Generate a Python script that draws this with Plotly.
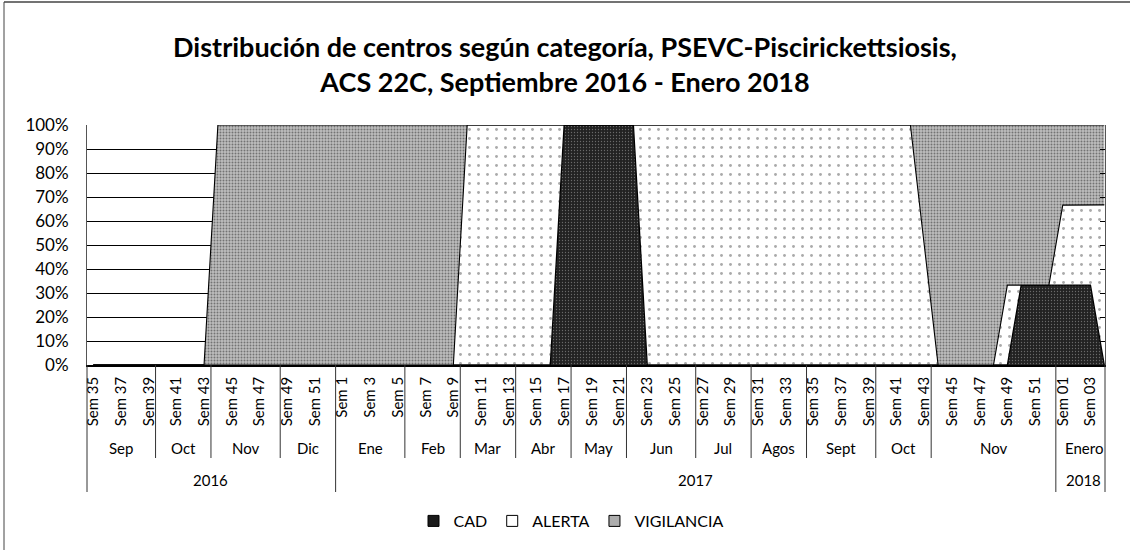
import plotly.graph_objects as go

# ---------------- data ----------------
weeks_2016 = ["Sem %d" % w for w in range(35, 53)]
weeks_2017 = ["Sem %d" % w for w in range(1, 53)]
weeks_2018 = ["Sem 01", "Sem 02", "Sem 03", "Sem 04"]
week_labels = weeks_2016 + weeks_2017 + weeks_2018

month_labels = ["Sep", "Oct", "Nov", "Dic", "Ene", "Feb", "Mar", "Abr", "May", "Jun",
                "Jul", "Agos", "Sept", "Oct", "Nov", "Enero"]
month_weeks = [5, 4, 5, 4, 5, 4, 4, 4, 4, 5, 4, 4, 5, 4, 9, 4]
year_labels = ["2016", "2017", "2018"]
year_weeks = [18, 52, 4]

# percentages per week (grouped by month)
cad = [0, 0, 0, 0, 0,  0, 0, 0, 0,  0, 0, 0, 0, 0,  0, 0, 0, 0,
       0, 0, 0, 0, 0,  0, 0, 0, 0,  0, 0, 0, 0,  0, 0, 0, 100,
       100, 100, 100, 100,  100, 0, 0, 0, 0,  0, 0, 0, 0,  0, 0, 0, 0,
       0, 0, 0, 0, 0,  0, 0, 0, 0,  0, 0, 0, 0, 0, 0, 33.3, 33.3, 33.3,
       33.3, 33.3, 33.3, 0]
alerta = [0, 0, 0, 0, 0,  0, 0, 0, 0,  0, 0, 0, 0, 0,  0, 0, 0, 0,
          0, 0, 0, 0, 0,  0, 0, 0, 0,  100, 100, 100, 100,  100, 100, 100, 0,
          0, 0, 0, 0,  0, 100, 100, 100, 100,  100, 100, 100, 100,  100, 100, 100, 100,
          100, 100, 100, 100, 100,  100, 100, 100, 50,  0, 0, 0, 0, 0, 33.3, 0, 0, 0,
          33.3, 33.3, 33.3, 66.7]
vigilancia = [0, 0, 0, 0, 0,  0, 0, 0, 0,  100, 100, 100, 100, 100,  100, 100, 100, 100,
              100, 100, 100, 100, 100,  100, 100, 100, 100,  0, 0, 0, 0,  0, 0, 0, 0,
              0, 0, 0, 0,  0, 0, 0, 0, 0,  0, 0, 0, 0,  0, 0, 0, 0,
              0, 0, 0, 0, 0,  0, 0, 0, 50,  100, 100, 100, 100, 100, 66.7, 66.7, 66.7, 66.7,
              33.4, 33.4, 33.4, 33.3]

series_names = ["CAD", "ALERTA", "VIGILANCIA"]

x_idx = list(range(len(week_labels)))

# ---------------- layout constants ----------------
W, H = 1130, 550
ML, MR, MT, MB = 87, 25, 125, 185
PW, PH = W - ML - MR, H - MT - MB
FONT = "Lato"


def py(px_from_top):
    """figure pixel y -> paper y"""
    return (H - MB - px_from_top) / PH


def px(px_from_left):
    return (px_from_left - ML) / PW


styles = {
    "CAD": dict(line=dict(color="black", width=1.3), fillcolor="#1e1e1e",
                fillpattern=dict(shape=".", bgcolor="#222222", fgcolor="#b0b0b0", size=3, solidity=0.15),
                legend_color="#1a1a1a"),
    "ALERTA": dict(line=dict(color="black", width=1.1), fillcolor="white",
                   fillpattern=dict(shape=".", bgcolor="white", fgcolor="#555555", size=9, solidity=0.08),
                   legend_color="white"),
    "VIGILANCIA": dict(line=dict(color="black", width=1.1), fillcolor="#bababa",
                       fillpattern=dict(shape=".", bgcolor="#bdbdbd", fgcolor="#2a2a2a", size=3, solidity=0.33),
                       legend_color="#adadad"),
}

fig = go.Figure()
for name, values in zip(series_names, [cad, alerta, vigilancia]):
    st = styles[name]
    fig.add_trace(go.Scatter(
        x=x_idx, y=values, name=name, mode="lines", stackgroup="one",
        line=st["line"], fillcolor=st["fillcolor"], fillpattern=st["fillpattern"],
        showlegend=False,
    ))
# legend swatches (square markers, as in the original legend)
for name in series_names:
    fig.add_trace(go.Scatter(
        x=[None], y=[None], name=name, mode="markers",
        marker=dict(symbol="square", size=11, color=styles[name]["legend_color"],
                    line=dict(color="black", width=1)),
        showlegend=True,
    ))

# ---------------- multi-level category axis ----------------
shapes = []
annotations = []
month_row_bottom = py(458)
year_row_bottom = py(492)
month_label_y = py(448)
year_label_y = py(480)

start = 0
month_bounds = []
for name, n in zip(month_labels, month_weeks):
    annotations.append(dict(x=start + (n - 1) / 2, y=month_label_y, xref="x", yref="paper",
                            text=name, showarrow=False, font=dict(size=15, family=FONT),
                            xanchor="center", yanchor="middle"))
    start += n
    month_bounds.append(start - 0.5)

year_bounds = []
start = 0
for name, n in zip(year_labels, year_weeks):
    annotations.append(dict(x=start + (n - 1) / 2, y=year_label_y, xref="x", yref="paper",
                            text=name, showarrow=False, font=dict(size=15, family=FONT),
                            xanchor="center", yanchor="middle"))
    start += n
    year_bounds.append(start - 0.5)

for b in month_bounds[:-1]:
    bottom = year_row_bottom if b in year_bounds else month_row_bottom
    shapes.append(dict(type="line", xref="x", yref="paper", x0=b, x1=b, y0=0, y1=bottom,
                       line=dict(color="#333333", width=1)))
for xp in (0, 1):
    shapes.append(dict(type="line", xref="paper", yref="paper", x0=xp, x1=xp, y0=0,
                       y1=year_row_bottom, line=dict(color="#333333", width=1)))

# outer chart border (left and top)
shapes.append(dict(type="line", xref="paper", yref="paper", x0=px(4), x1=px(4),
                   y0=py(H), y1=py(2), line=dict(color="#444444", width=1)))
shapes.append(dict(type="line", xref="paper", yref="paper", x0=px(4), x1=px(W),
                   y0=py(2), y1=py(2), line=dict(color="#444444", width=1.5)))

fig.update_layout(
    width=W, height=H,
    margin=dict(l=ML, r=MR, t=MT, b=MB, autoexpand=False),
    paper_bgcolor="white", plot_bgcolor="white",
    font=dict(family=FONT, size=15, color="black"),
    title=dict(
        text="Distribución de centros según categoría, PSEVC-Piscirickettsiosis,<br>"
             "ACS 22C, Septiembre 2016 - Enero 2018",
        font=dict(family=FONT, size=27, color="black", weight="bold"),
        x=0.5, xref="container", xanchor="center",
        y=1 - 57 / H, yref="container", yanchor="middle",
    ),
    xaxis=dict(
        range=[-0.45, 73.05], automargin=False,
        tickmode="array", tickvals=x_idx[::2], ticktext=week_labels[::2],
        tickangle=-90, tickfont=dict(size=15, family=FONT),
        showgrid=False, zeroline=False,
        showline=True, linecolor="black", linewidth=1.5, ticks="",
        ticklabelstandoff=4,
    ),
    yaxis=dict(
        range=[0, 100], dtick=10, ticksuffix="%", automargin=False,
        tickfont=dict(size=17, family=FONT),
        showgrid=True, gridcolor="black", gridwidth=1,
        zeroline=False, showline=True, linecolor="#555555", linewidth=1,
        mirror="ticks", ticks="inside", ticklen=5, tickcolor="black",
        ticklabelstandoff=14,
    ),
    legend=dict(
        orientation="h", traceorder="normal",
        x=px(571), xanchor="center", y=py(521), yanchor="middle",
        font=dict(size=16, family=FONT), itemwidth=30, itemclick=False,
        tracegroupgap=0,
    ),
    shapes=shapes,
    annotations=annotations,
    showlegend=True,
)

fig.write_html("out.html", config={"displayModeBar": False},
               post_script="document.body.style.margin='0px';")
